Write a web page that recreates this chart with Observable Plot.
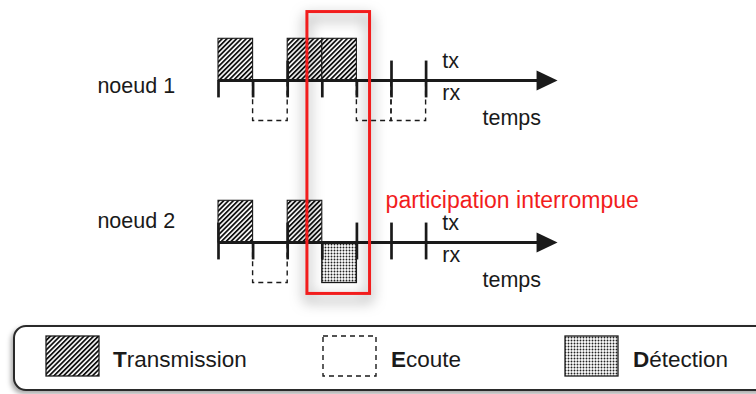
<!DOCTYPE html>
<html><head><meta charset="utf-8">
<script src="https://cdn.jsdelivr.net/npm/d3@7"></script>
<script src="https://cdn.jsdelivr.net/npm/@observablehq/plot@0.6"></script>
<style>
body{margin:0;background:#fff;overflow:hidden;font-family:"Liberation Sans",Arial,Helvetica,sans-serif;}
#chart{position:absolute;left:0;top:0;}
#legend{position:absolute;left:13px;top:325px;width:760px;height:66px;box-sizing:border-box;border:2px solid #2a2a2a;border-radius:13px;background:#fff;box-shadow:-2px 3px 5px rgba(0,0,0,0.35);}
#legend svg{position:absolute;left:0;top:0;}
</style></head><body>
<div id="chart"></div><div id="legend"></div>
<script>
// ---------- data ----------
const nodes = ["noeud 1", "noeud 2"];
const slotTicks = [0, 1, 2, 3, 4, 5, 6];
const axisEnd = 9.8;
const tickKinds1 = ["below", "below", "both", "below", "below", "both", "both"];
const tickKinds2 = ["both", "below", "both", "below", "both", "both", "both"];
const actNode  = ["noeud 1","noeud 1","noeud 1","noeud 1","noeud 1","noeud 1","noeud 2","noeud 2","noeud 2","noeud 2"];
const actKind  = ["Transmission","Transmission","Transmission","Ecoute","Ecoute","Ecoute","Transmission","Transmission","Ecoute","Détection"];
const actStart = [0, 2, 3, 1, 4, 5, 0, 2, 1, 3];
const actEnd   = [1, 3, 4, 2, 5, 6, 1, 3, 2, 4];
const channelLabels = ["tx", "rx", "temps"];
const highlightSlots = [2.57, 4.38];
const highlightLabel = "participation interrompue";
const legendLabels = ["Transmission", "Ecoute", "Détection"];

// ---------- layout (not data) ----------
const base = {"noeud 1": 0, "noeud 2": -4};
const nodeLabelDy = {"noeud 1": -0.32, "noeud 2": 0.37};
const chanPos = {tx: [6.47, 0.32], rx: [6.47, -0.49], temps: [7.63, -1.11]};
const FS = 21.5;
const ink = "#1a1a1a";
const red = "#f21d1d";

const activities = actNode.map((n, i) => ({node: n, kind: actKind[i], start: actStart[i], end: actEnd[i]}));
const ticks = nodes.flatMap((n, j) => slotTicks.map((t, i) => ({node: n, t, kind: (j === 0 ? tickKinds1 : tickKinds2)[i]})));
const chans = nodes.flatMap(n => channelLabels.map(c => ({node: n, c})));
const yTop = d => base[d.node] + (d.kind === "Transmission" ? 1.03 : -1);

const arrowHead = {draw(ctx) { ctx.moveTo(-21, -10); ctx.lineTo(0, 0); ctx.lineTo(-21, 10); ctx.closePath(); }};

const svg = Plot.plot({
  width: 756, height: 318,
  style: {fontFamily: "'Liberation Sans', Arial, Helvetica, sans-serif", background: "transparent"},
  x: {domain: [0, 10], range: [218, 564], axis: null},
  y: {domain: [-6, 2], range: [323, -1], axis: null},
  marks: [
    Plot.rect(activities.filter(d => d.kind === "Ecoute"), {
      x1: "start", x2: "end", y1: d => base[d.node], y2: yTop,
      fill: "none", stroke: ink, strokeWidth: 1.4, strokeDasharray: "5,4", inset: 0
    }),
    Plot.rect(activities.filter(d => d.kind === "Transmission"), {
      x1: "start", x2: "end", y1: d => base[d.node], y2: yTop,
      fill: "url(#hatch)", stroke: ink, strokeWidth: 1.1, inset: 0
    }),
    Plot.rect(activities.filter(d => d.kind === "Détection"), {
      x1: "start", x2: "end", y1: d => base[d.node], y2: yTop,
      fill: "url(#dots)", stroke: ink, strokeWidth: 1.3, inset: 0
    }),
    Plot.ruleY(nodes, {y: d => base[d], x1: () => 0, x2: () => axisEnd - 0.4, stroke: ink, strokeWidth: 3}),
    Plot.ruleX(ticks, {x: "t", y1: d => base[d.node] + (d.kind === "both" ? 0.48 : 0), y2: d => base[d.node] - 0.43, stroke: ink, strokeWidth: 2.7}),
    Plot.dot(nodes, {x: () => axisEnd, y: d => base[d], symbol: arrowHead, fill: ink, stroke: "none", r: 5}),
    Plot.rect([highlightSlots], {x1: d => d[0], x2: d => d[1], y1: () => 1.69, y2: () => -5.27, fill: "none", stroke: red, strokeWidth: 3}),
    Plot.text(nodes, {x: () => -3.5, y: d => base[d] + nodeLabelDy[d], text: d => d, textAnchor: "start", lineAnchor: "bottom", fontSize: FS, fill: ink}),
    Plot.text(chans, {x: d => chanPos[d.c][0], y: d => base[d.node] + chanPos[d.c][1], text: "c", textAnchor: "start", lineAnchor: "bottom", fontSize: FS, fill: ink}),
    Plot.text([highlightLabel], {x: () => 4.83, y: () => base["noeud 2"] + 0.86, text: d => d, textAnchor: "start", lineAnchor: "bottom", fontSize: 23, fill: red})
  ]
});

const s = d3.select(svg);
const defs = s.insert("defs", ":first-child");
const hatch = defs.append("pattern").attr("id", "hatch").attr("patternUnits", "userSpaceOnUse")
  .attr("width", 3.4).attr("height", 10).attr("patternTransform", "rotate(45)");
hatch.append("rect").attr("width", 3.4).attr("height", 10).attr("fill", "#fff");
hatch.append("rect").attr("width", 1.8).attr("height", 10).attr("fill", "#111");
const dots = defs.append("pattern").attr("id", "dots").attr("patternUnits", "userSpaceOnUse")
  .attr("width", 3).attr("height", 3);
dots.append("rect").attr("width", 3).attr("height", 3).attr("fill", "#fff");
dots.append("circle").attr("cx", 1.5).attr("cy", 1.5).attr("r", 0.95).attr("fill", "#222");
s.selectAll(`g[stroke="${red}"]`).style("filter", "drop-shadow(0px 6px 7px rgba(0,0,0,0.6))");
document.getElementById("chart").appendChild(svg);

// ---------- legend ----------
const lsvg = d3.select("#legend").append("svg").attr("width", 756).attr("height", 62)
  .style("font-family", "'Liberation Sans', Arial, Helvetica, sans-serif");
const swX = [31, 308, 550], txX = [98, 376, 618];
legendLabels.forEach((lab, i) => {
  const r = lsvg.append("rect").attr("x", swX[i]).attr("y", 9).attr("width", 53).attr("height", 40);
  if (lab === "Transmission") r.attr("fill", "url(#hatch)").attr("stroke", ink).attr("stroke-width", 1.3);
  else if (lab === "Ecoute") r.attr("fill", "none").attr("stroke", ink).attr("stroke-width", 1.4).attr("stroke-dasharray", "5,4");
  else r.attr("fill", "url(#dots)").attr("stroke", ink).attr("stroke-width", 1.3);
  const t = lsvg.append("text").attr("x", txX[i]).attr("y", 40).attr("font-size", 22.5).attr("fill", ink);
  t.append("tspan").attr("font-weight", "bold").text(lab[0]);
  t.append("tspan").text(lab.slice(1));
});
</script>
</body></html>
